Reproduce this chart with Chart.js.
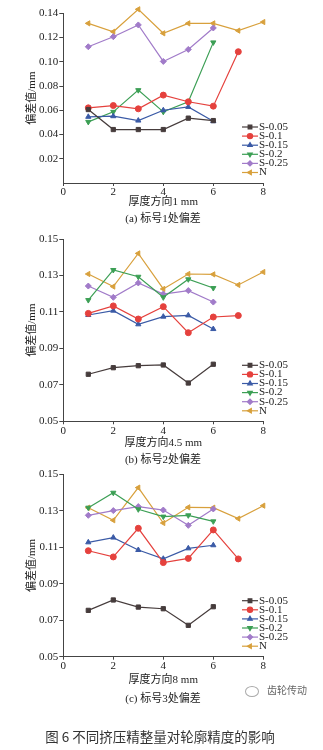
<!DOCTYPE html>
<html>
<head>
<meta charset="utf-8">
<script src="https://cdn.jsdelivr.net/npm/chart.js@4.4.1/dist/chart.umd.min.js"></script>
<style>
body{margin:0;background:#fff;width:323px;height:750px;position:relative;overflow:hidden}
canvas{position:absolute;left:0}
.cap{position:absolute;left:63px;width:200px;text-align:center;font:11px 'Liberation Serif','Noto Sans CJK SC';color:#222;line-height:14px}
.foot{position:absolute;left:0;width:320px;top:727px;text-align:center;font:13.5px 'Noto Sans CJK SC';color:#333;line-height:18px}
.mark{position:absolute;left:245px;top:683px;font:10px 'Noto Sans CJK SC';color:#666;line-height:14px}
.mark span{display:inline-block;width:12px;height:9px;border:1px solid #aaa;border-radius:50%;margin-right:8px;vertical-align:middle}
</style>
</head>
<body>
<canvas id="chart_a" width="323" height="214" style="top:0"></canvas>
<div class="cap" style="top:211px">(a) 标号1处偏差</div>
<canvas id="chart_b" width="323" height="226" style="top:226px"></canvas>
<div class="cap" style="top:452px">(b) 标号2处偏差</div>
<canvas id="chart_c" width="323" height="230" style="top:460px"></canvas>
<div class="cap" style="top:691px">(c) 标号3处偏差</div>
<div class="mark"><span></span>齿轮传动</div>
<div class="foot">图 6 不同挤压精整量对轮廓精度的影响</div>
<script>
// thickness positions 1..8
const xs = [1, 2, 3, 4, 5, 6, 7, 8];
const names = ['S-0.05', 'S-0.1', 'S-0.15', 'S-0.2', 'S-0.25', 'N'];
const xTicks = [0, 2, 4, 6, 8];

// (a) 1 mm
const a_s005 = [0.0606, 0.0441, 0.0441, 0.0441, 0.0535, 0.0515];
const a_s01  = [0.0620, 0.0639, 0.0612, 0.0725, 0.0670, 0.0634, 0.1083];
const a_s015 = [0.0546, 0.0551, 0.0515, 0.0600, 0.0628, 0.0510];
const a_s02  = [0.0504, 0.0587, 0.0766, 0.0587, 0.0670, 0.1160];
const a_s025 = [0.1124, 0.1207, 0.1304, 0.1003, 0.1102, 0.1279];
const a_n    = [0.1317, 0.1248, 0.1433, 0.1235, 0.1317, 0.1317, 0.1257, 0.1328];
const aYTicks = [0.02, 0.04, 0.06, 0.08, 0.10, 0.12, 0.14];

// (b) 4.5 mm
const b_s005 = [0.0758, 0.0794, 0.0805, 0.0809, 0.0710, 0.0813];
const b_s01  = [0.1092, 0.1133, 0.1061, 0.1129, 0.0986, 0.1072, 0.1080];
const b_s015 = [0.1083, 0.1107, 0.1032, 0.1074, 0.1081, 0.1006];
const b_s02  = [0.1165, 0.1330, 0.1293, 0.1180, 0.1279, 0.1231];
const b_s025 = [0.1242, 0.1180, 0.1259, 0.1198, 0.1217, 0.1154];
const b_n    = [0.1308, 0.1239, 0.1421, 0.1226, 0.1308, 0.1306, 0.1248, 0.1319];

// (c) 8 mm
const c_s005 = [0.0754, 0.0811, 0.0772, 0.0763, 0.0672, 0.0774];
const c_s01  = [0.1081, 0.1047, 0.1204, 0.1016, 0.1039, 0.1195, 0.1036];
const c_s015 = [0.1127, 0.1153, 0.1085, 0.1037, 0.1094, 0.1111];
const c_s02  = [0.1317, 0.1399, 0.1308, 0.1268, 0.1275, 0.1242];
const c_s025 = [0.1275, 0.1301, 0.1323, 0.1304, 0.1220, 0.1310];
const c_n    = [0.1317, 0.1248, 0.1427, 0.1233, 0.1319, 0.1317, 0.1257, 0.1328];
const bcYTicks = [0.05, 0.07, 0.09, 0.11, 0.13, 0.15];

const colors = ['#463c3c', '#e5413d', '#3a5aa6', '#3c9f55', '#a17bc9', '#d8a03c'];
const marks = ['rect', 'circle', 'triangle', 'triangle', 'rectRot', 'triangle'];
const turns = [0, 0, 0, 180, 0, -90];

const serif = "'Liberation Serif', 'Noto Sans CJK SC'";
const ink = '#222';
const axisInk = '#444';

const boxLegend = {
    id: 'boxLegend',
    afterDraw(chart) {
        const {ctx, chartArea} = chart;
        ctx.save();
        ctx.font = "11px 'Liberation Serif'";
        ctx.textBaseline = 'middle';
        chart.data.datasets.forEach((ds, i) => {
            const y = chartArea.bottom - 56 + i * 9.1;
            ctx.strokeStyle = ds.borderColor;
            ctx.fillStyle = ds.borderColor;
            ctx.lineWidth = 1.2;
            ctx.beginPath();
            ctx.moveTo(242, y);
            ctx.lineTo(258, y);
            ctx.stroke();
            if (Chart.helpers && Chart.helpers.drawPoint) {
                Chart.helpers.drawPoint(ctx, {pointStyle: ds.pointStyle, rotation: ds.pointRotation, radius: 2.6, borderWidth: 1}, 250, y);
            } else {
                ctx.fillRect(248, y - 2, 4, 4);
            }
            ctx.fillStyle = ink;
            ctx.fillText(ds.label, 259, y);
        });
        ctx.restore();
    }
};

function makeChart(id, series, yMin, yMax, yTicks, xTitle, box) {
    const datasets = series.map((vals, i) => ({
        label: names[i],
        data: vals.map((v, j) => ({x: xs[j], y: v})),
        borderColor: colors[i],
        backgroundColor: colors[i],
        borderWidth: 1.2,
        pointStyle: marks[i],
        pointRotation: turns[i],
        pointRadius: 3,
        pointBorderWidth: 1,
        tension: 0,
        clip: false
    }));
    return new Chart(document.getElementById(id), {
        type: 'line',
        data: {datasets},
        plugins: [boxLegend],
        options: {
            responsive: false,
            animation: false,
            layout: {padding: {top: box.top, right: 59.7, left: 0, bottom: 0}},
            plugins: {legend: {display: false}, tooltip: {enabled: false}},
            scales: {
                x: {
                    type: 'linear', min: 0, max: 8,
                    afterBuildTicks: s => { s.ticks = xTicks.map(v => ({value: v})); },
                    afterFit: s => { s.height = box.axisH; },
                    grid: {drawOnChartArea: false, tickLength: 3, color: axisInk},
                    border: {color: axisInk, width: 1},
                    ticks: {padding: 0, color: ink, font: {family: serif, size: 11}, callback: v => String(v), maxRotation: 0},
                    title: {display: true, text: xTitle, color: ink, font: {family: serif, size: 11}, padding: {top: 0, bottom: box.titlePad}}
                },
                y: {
                    type: 'linear', min: yMin, max: yMax,
                    afterBuildTicks: s => { s.ticks = yTicks.map(v => ({value: v})); },
                    afterFit: s => { s.width = 63.3; },
                    grid: {drawOnChartArea: false, tickLength: 4, color: axisInk},
                    border: {color: axisInk, width: 1},
                    ticks: {padding: 1, color: ink, font: {family: serif, size: 11}, callback: v => v.toFixed(2)},
                    title: {display: true, text: '偏差值/mm', color: ink, font: {family: serif, size: 11}, padding: {top: 25.4, bottom: 0}}
                }
            }
        }
    });
}

makeChart('chart_a', [a_s005, a_s01, a_s015, a_s02, a_s025, a_n], 0, 0.14, aYTicks, '厚度方向1 mm',
    {top: 13.3, axisH: 31, titlePad: 5.4});
makeChart('chart_b', [b_s005, b_s01, b_s015, b_s02, b_s025, b_n], 0.05, 0.15, bcYTicks, '厚度方向4.5 mm',
    {top: 13, axisH: 30.7, titlePad: 2.7});
makeChart('chart_c', [c_s005, c_s01, c_s015, c_s02, c_s025, c_n], 0.05, 0.15, bcYTicks, '厚度方向8 mm',
    {top: 14.3, axisH: 33.3, titlePad: 3.4});
</script>
</body>
</html>
